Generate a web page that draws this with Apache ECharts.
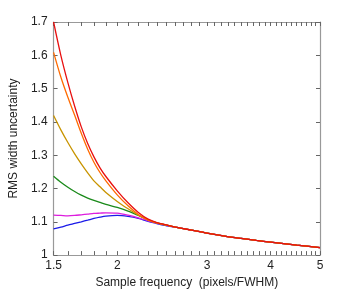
<!DOCTYPE html>
<html>
<head>
<meta charset="utf-8">
<script src="https://cdn.jsdelivr.net/npm/echarts@6/dist/echarts.min.js"></script>
<style>html,body{margin:0;padding:0;background:#fff;}#c{width:353px;height:294px;}</style>
</head>
<body>
<div id="c"></div>
<script>
var xs = [1.5, 1.55, 1.6, 1.65, 1.7, 1.75, 1.8, 1.85, 1.9, 2.0, 2.1, 2.2, 2.3, 2.4, 2.5, 2.6, 2.8, 3.0, 3.25, 3.5, 3.75, 4.0, 4.5, 5.0];
var tail = [1.084, 1.075, 1.066, 1.057, 1.050, 1.044, 1.039, 1.030, 1.0225];
var red     = [1.700, 1.600, 1.518, 1.447, 1.385, 1.335, 1.295, 1.262, 1.236, 1.193, 1.157, 1.128, 1.108, 1.097, 1.091];
var orange  = [1.609, 1.535, 1.474, 1.420, 1.366, 1.318, 1.279, 1.248, 1.223, 1.181, 1.148, 1.122, 1.105, 1.096, 1.090];
var golden  = [1.419, 1.376, 1.338, 1.304, 1.274, 1.247, 1.223, 1.205, 1.188, 1.161, 1.139, 1.120, 1.106, 1.096, 1.090];
var green   = [1.237, 1.219, 1.204, 1.191, 1.180, 1.171, 1.164, 1.158, 1.152, 1.143, 1.132, 1.119, 1.106, 1.096, 1.090];
var magenta = [1.120, 1.119, 1.118, 1.119, 1.121, 1.123, 1.125, 1.126, 1.127, 1.126, 1.120, 1.112, 1.103, 1.095, 1.089];
var blue    = [1.079, 1.084, 1.090, 1.095, 1.100, 1.105, 1.110, 1.114, 1.117, 1.119, 1.116, 1.110, 1.101, 1.094, 1.088];
var xLabels = [1.5, 2, 3, 4, 5];
var xTicks = [1.5,1.6,1.7,1.8,1.9,2,2.1,2.2,2.3,2.4,2.5,2.6,2.7,2.8,2.9,3,3.1,3.2,3.3,3.4,3.5,3.6,3.7,3.8,3.9,4,4.1,4.2,4.3,4.4,4.5,4.6,4.7,4.8,4.9,5];
var xMin = 1.5, xMax = 5;
var yMin = 1, yMax = 1.7, yStep = 0.1;
var colors = ['#e81010', '#ff6a00', '#c89400', '#1a8a1a', '#dd1ddd', '#1a1ae8'];
var names = ['red', 'orange', 'golden', 'green', 'magenta', 'blue'];
var seriesVals = [red, orange, golden, green, magenta, blue];

// x axis is logarithmic: the value axis works on ln(x)
function L(x) { return Math.log(x); }
function pairs(vals) {
  var full = vals.concat(tail);
  return xs.map(function (x, i) { return [L(x), full[i]]; });
}

var font = 'Liberation Sans, Arial, sans-serif';
var axisCol = '#999';
function xAx(pos, showLabel) {
  return {
    type: 'value', position: pos, min: L(xMin), max: L(xMax),
    axisLine: { show: true, lineStyle: { color: axisCol, width: 1.2 } },
    axisTick: { show: true, inside: true, length: 4, customValues: xTicks.map(L), lineStyle: { color: '#666', width: 1 } },
    axisLabel: { show: showLabel, customValues: xLabels.map(L), color: '#222', fontSize: 12, fontFamily: font, margin: 5,
      formatter: function (v) { return String(Math.round(Math.exp(v) * 10) / 10); } },
    splitLine: { show: false }, minorTick: { show: false },
    name: showLabel ? 'Sample frequency  (pixels/FWHM)' : '',
    nameLocation: 'middle', nameGap: 19,
    nameTextStyle: { color: '#222', fontSize: 12, fontFamily: font }
  };
}
function yAx(pos, showLabel) {
  return {
    type: 'value', position: pos, min: yMin, max: yMax, interval: yStep,
    axisLine: { show: true, lineStyle: { color: axisCol, width: 1.2 } },
    axisTick: { show: true, inside: true, length: 4, lineStyle: { color: '#666', width: 1 } },
    axisLabel: { show: showLabel, color: '#222', fontSize: 12, fontFamily: font, margin: 6,
      formatter: function (v) { return String(Math.round(v * 10) / 10); } },
    splitLine: { show: false },
    name: showLabel ? 'RMS width uncertainty' : '',
    nameLocation: 'middle', nameGap: 27,
    nameTextStyle: { color: '#222', fontSize: 12, fontFamily: font }
  };
}

var chart = echarts.init(document.getElementById('c'), null, { renderer: 'canvas' });
chart.setOption({
  animation: false,
  backgroundColor: '#fff',
  grid: { left: 46, right: 33, top: 22, bottom: 33 },
  xAxis: [xAx('bottom', true), xAx('top', false)],
  yAxis: [yAx('left', true), yAx('right', false)],
  series: seriesVals.map(function (v, i) {
    return {
      name: names[i], type: 'line', xAxisIndex: 0, yAxisIndex: 0,
      data: pairs(v), showSymbol: false, smooth: 0.3,
      lineStyle: { color: colors[i], width: 1.3 }, z: 10 - i
    };
  })
});
</script>
</body>
</html>
